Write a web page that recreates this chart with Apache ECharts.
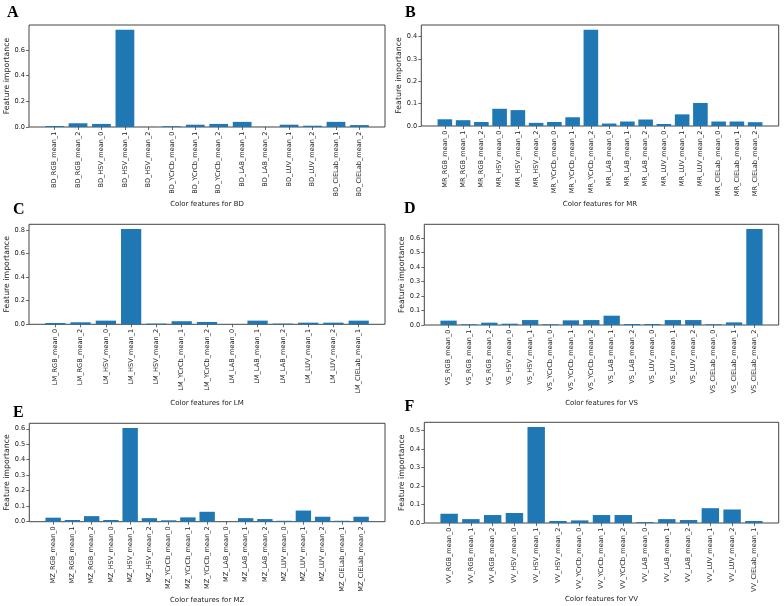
<!DOCTYPE html>
<html>
<head>
<meta charset="utf-8">
<script src="https://cdn.jsdelivr.net/npm/echarts@6/dist/echarts.min.js"></script>
<style>html,body{margin:0;padding:0;background:#fff}#c{width:784px;height:606px}</style>
</head>
<body>
<div id="c"></div>
<script>
// ---- Data ----
const bdCats = ['BD_RGB_mean_1','BD_RGB_mean_2','BD_HSV_mean_0','BD_HSV_mean_1','BD_HSV_mean_2','BD_YCrCb_mean_0','BD_YCrCb_mean_1','BD_YCrCb_mean_2','BD_LAB_mean_1','BD_LAB_mean_2','BD_LUV_mean_1','BD_LUV_mean_2','BD_CIELab_mean_1','BD_CIELab_mean_2'];
const bdVals = [0.008,0.029,0.024,0.757,0.001,0.006,0.018,0.024,0.040,0.001,0.018,0.010,0.040,0.015];

const mrCats = ['MR_RGB_mean_0','MR_RGB_mean_1','MR_RGB_mean_2','MR_HSV_mean_0','MR_HSV_mean_1','MR_HSV_mean_2','MR_YCrCb_mean_0','MR_YCrCb_mean_1','MR_YCrCb_mean_2','MR_LAB_mean_0','MR_LAB_mean_1','MR_LAB_mean_2','MR_LUV_mean_0','MR_LUV_mean_1','MR_LUV_mean_2','MR_CIELab_mean_0','MR_CIELab_mean_1','MR_CIELab_mean_2'];
const mrVals = [0.030,0.026,0.018,0.077,0.071,0.014,0.018,0.039,0.430,0.011,0.020,0.029,0.009,0.052,0.103,0.020,0.020,0.017];

const lmCats = ['LM_RGB_mean_0','LM_RGB_mean_2','LM_HSV_mean_0','LM_HSV_mean_1','LM_HSV_mean_2','LM_YCrCb_mean_1','LM_YCrCb_mean_2','LM_LAB_mean_0','LM_LAB_mean_1','LM_LAB_mean_2','LM_LUV_mean_1','LM_LUV_mean_2','LM_CIELab_mean_1'];
const lmVals = [0.011,0.017,0.031,0.808,0.006,0.026,0.020,0.001,0.031,0.006,0.014,0.014,0.031];

const vsCats = ['VS_RGB_mean_0','VS_RGB_mean_1','VS_RGB_mean_2','VS_HSV_mean_0','VS_HSV_mean_1','VS_YCrCb_mean_0','VS_YCrCb_mean_1','VS_YCrCb_mean_2','VS_LAB_mean_1','VS_LAB_mean_2','VS_LUV_mean_0','VS_LUV_mean_1','VS_LUV_mean_2','VS_CIELab_mean_0','VS_CIELab_mean_1','VS_CIELab_mean_2'];
const vsVals = [0.030,0.005,0.016,0.009,0.034,0.005,0.032,0.034,0.064,0.007,0.007,0.034,0.034,0.005,0.018,0.660];

const mzCats = ['MZ_RGB_mean_0','MZ_RGB_mean_1','MZ_RGB_mean_2','MZ_HSV_mean_0','MZ_HSV_mean_1','MZ_HSV_mean_2','MZ_YCrCb_mean_0','MZ_YCrCb_mean_1','MZ_YCrCb_mean_2','MZ_LAB_mean_0','MZ_LAB_mean_1','MZ_LAB_mean_2','MZ_LUV_mean_0','MZ_LUV_mean_1','MZ_LUV_mean_2','MZ_CIELab_mean_1','MZ_CIELab_mean_2'];
const mzVals = [0.026,0.011,0.036,0.011,0.605,0.023,0.009,0.028,0.064,0.001,0.023,0.017,0.006,0.072,0.032,0.006,0.032];

const vvCats = ['VV_RGB_mean_0','VV_RGB_mean_1','VV_RGB_mean_2','VV_HSV_mean_0','VV_HSV_mean_1','VV_HSV_mean_2','VV_YCrCb_mean_0','VV_YCrCb_mean_1','VV_YCrCb_mean_2','VV_LAB_mean_0','VV_LAB_mean_1','VV_LAB_mean_2','VV_LUV_mean_1','VV_LUV_mean_2','VV_CIELab_mean_1'];
const vvVals = [0.050,0.021,0.043,0.054,0.518,0.011,0.014,0.043,0.043,0.005,0.021,0.016,0.080,0.073,0.011];

const aTicks = [0, 0.2, 0.4, 0.6];
const bTicks = [0, 0.1, 0.2, 0.3, 0.4];
const cTicks = [0, 0.2, 0.4, 0.6, 0.8];
const dTicks = [0, 0.1, 0.2, 0.3, 0.4, 0.5, 0.6];
const eTicks = [0, 0.1, 0.2, 0.3, 0.4, 0.5, 0.6];
const fTicks = [0, 0.1, 0.2, 0.3, 0.4, 0.5];

const letters = ['A','B','C','D','E','F'];
const groups = ['BD','MR','LM','VS','MZ','VV'];
const yLabel = 'Feature importance';
const xLabelPrefix = 'Color features for ';

// ---- Layout (positions/styles only) ----
const layout = [
  {frame:[29,25,385,127],     xGap:73.5, yGap:18,   letter:[7,5]},
  {frame:[421.3,25,778.7,126],xGap:74.5, yGap:14,   letter:[405,4.5]},
  {frame:[29,224.3,385,324.3],xGap:75,   yGap:17.5, letter:[13,202]},
  {frame:[424.3,224.3,778.7,325],xGap:74.5,yGap:17.5,letter:[404,200.5]},
  {frame:[29.3,423.3,385,521.7],xGap:75, yGap:18,   letter:[13,404.5]},
  {frame:[424.3,422.3,778.7,523],xGap:73,yGap:17.5, letter:[404.5,399]}
];

const catsList = [bdCats, mrCats, lmCats, vsCats, mzCats, vvCats];
const valsList = [bdVals, mrVals, lmVals, vsVals, mzVals, vvVals];
const ticksList = [aTicks, bTicks, cTicks, dTicks, eTicks, fTicks];

const BLUE = '#1f77b4';
const TXT = '#222';
const FRAME = '#444';
const FONT = 'DejaVu Sans';

const grid = [], xAxis = [], yAxis = [], series = [], title = [];

for (let i = 0; i < 6; i++) {
  const L = layout[i];
  const [fl, ft, fr, fb] = L.frame;
  const W = fr - fl, H = fb - ft;
  const cats = catsList[i], vals = valsList[i];
  const n = cats.length;
  const ymax = Math.max(...vals) * 1.05;      // matplotlib 5% top margin
  const u = W / ((n - 0.2) * 1.1);            // px per category (matplotlib 5% x margins)
  const dataLeft = fl + 0.05 * (n - 0.2) * u - 0.1 * u;
  const dataWidth = n * u;

  grid.push({left: fl, top: ft, width: W, height: H, show: true,
    borderColor: FRAME, borderWidth: 1, backgroundColor: 'transparent', containLabel: false});
  grid.push({left: dataLeft, top: ft, width: dataWidth, height: H, containLabel: false});

  xAxis.push({type: 'value', gridIndex: 2*i, show: false, min: 0, max: 1});
  xAxis.push({
    type: 'category', gridIndex: 2*i+1, data: cats,
    axisLine: {show: false},
    axisTick: {show: true, alignWithLabel: true, length: 3, lineStyle: {color: FRAME, width: 0.8}},
    axisLabel: {rotate: 90, interval: 0, fontSize: 6.6, color: TXT, fontFamily: FONT, margin: 4.5},
    name: xLabelPrefix + groups[i], nameLocation: 'middle', nameGap: L.xGap,
    nameTextStyle: {fontSize: 7, color: TXT, fontFamily: FONT}
  });

  const ticks = ticksList[i];
  yAxis.push({
    type: 'value', gridIndex: 2*i, min: 0, max: ymax,
    axisLine: {show: false},
    splitLine: {show: false},
    axisTick: {show: true, length: 3, customValues: ticks, lineStyle: {color: FRAME, width: 0.8}},
    axisLabel: {customValues: ticks, fontSize: 6.6, color: TXT, fontFamily: FONT, margin: 4,
      formatter: v => v.toFixed(1)},
    name: yLabel, nameLocation: 'middle', nameGap: L.yGap, nameRotate: 90,
    nameTextStyle: {fontSize: 7.8, color: TXT, fontFamily: FONT}
  });
  yAxis.push({type: 'value', gridIndex: 2*i+1, min: 0, max: ymax, show: false, splitLine:{show:false}});

  series.push({
    type: 'bar', xAxisIndex: 2*i+1, yAxisIndex: 2*i+1, data: vals,
    barWidth: '80%', itemStyle: {color: BLUE}, silent: true, animation: false
  });

  title.push({text: letters[i], left: L.letter[0], top: L.letter[1], padding: 0,
    textStyle: {fontFamily: 'Liberation Serif', fontWeight: 'bold', fontSize: 16, color: '#000'}});
}

const chart = echarts.init(document.getElementById('c'), null, {renderer: 'canvas'});
chart.setOption({animation: false, backgroundColor: '#fff', title, grid, xAxis, yAxis, series});
</script>
</body>
</html>
